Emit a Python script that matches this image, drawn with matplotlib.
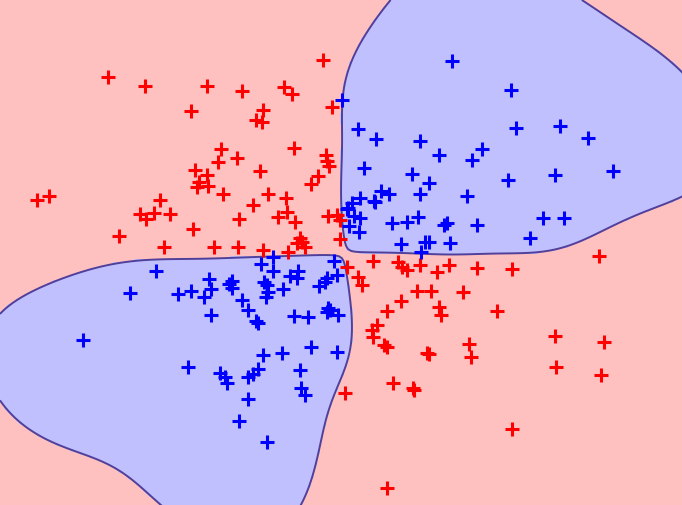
import numpy as np
import matplotlib
matplotlib.use("Agg")
import matplotlib.pyplot as plt
from matplotlib.colors import ListedColormap

# points (x right, y down, picture units)
red_x = [108, 145, 207, 242, 284, 292, 323, 191, 263, 256, 262, 332, 221, 218, 195, 207,
         199, 208, 197, 223, 37, 49, 160, 294, 237, 326, 327, 329, 260, 318, 311, 268,
         286, 253, 140, 146, 154, 170, 119, 193, 164, 214, 239, 287, 278, 295, 328, 337,
         340, 340, 238, 263, 288, 300, 297, 305, 302, 347, 358, 362, 373, 398, 402, 407,
         420, 437, 449, 417, 431, 401, 387, 439, 441, 377, 372, 373, 384, 387, 427, 429,
         599, 477, 512, 463, 497, 555, 604, 469, 471, 345, 393, 413, 414, 387, 512, 556, 601]
red_y = [77, 86, 86, 91, 87, 94, 60, 111, 110, 120, 122, 107, 149, 162, 170, 175,
         182, 186, 187, 194, 200, 196, 200, 148, 158, 155, 161, 166, 171, 176, 184, 194,
         198, 205, 214, 219, 213, 214, 236, 229, 247, 247, 219, 212, 217, 222, 216, 215,
         220, 239, 247, 250, 252, 238, 243, 247, 242, 267, 277, 285, 261, 262, 267, 270,
         265, 272, 265, 291, 291, 301, 311, 307, 315, 325, 330, 337, 345, 347, 353, 354,
         256, 268, 269, 292, 311, 336, 342, 344, 357, 393, 383, 388, 390, 488, 429, 367, 375]

blue_x = [342, 452, 358, 376, 420, 439, 364, 412, 429, 420, 381, 389, 360, 374, 352, 348,
          511, 516, 560, 588, 482, 472, 508, 555, 613, 467, 375, 354, 360, 347, 349, 359,
          392, 407, 418, 444, 447, 401, 425, 429, 421, 450, 477, 543, 564, 530,
          156, 130, 178, 191, 209, 211, 204, 211, 83, 229, 273, 261, 273, 334, 298, 290,
          297, 327, 337, 325, 319, 232, 232, 264, 267, 268, 266, 283, 242, 248, 256, 258,
          328, 330, 327, 338, 294, 308, 311, 282, 263, 337, 188, 220, 225, 227, 248, 253,
          258, 300, 301, 305, 248, 239, 267]
blue_y = [100, 61, 129, 139, 141, 155, 168, 174, 183, 194, 191, 194, 198, 201, 203, 208,
          90, 128, 126, 138, 149, 160, 180, 175, 171, 196, 202, 216, 218, 209, 226, 232,
          223, 222, 217, 225, 223, 244, 242, 242, 252, 243, 225, 218, 218, 238,
          271, 293, 294, 291, 279, 289, 297, 315, 340, 284, 257, 264, 271, 261, 271, 276,
          278, 278, 275, 282, 286, 281, 288, 282, 285, 292, 297, 289, 300, 310, 321, 323,
          308, 310, 312, 315, 316, 317, 347, 353, 355, 352, 367, 373, 377, 383, 377, 374,
          369, 370, 388, 395, 399, 421, 442]

W, H = 682, 505
width = 61.0   # rbf kernel width
lam = 0.3      # ridge term

# least squares kernel classifier fitted on the points
P = np.column_stack([red_x + blue_x, red_y + blue_y]).astype(float)
t = np.r_[-np.ones(len(red_x)), np.ones(len(blue_x))]
n = len(t)
K = np.exp(-((P[:, None, :] - P[None, :, :]) ** 2).sum(-1) / (2 * width ** 2))
A = np.zeros((n + 1, n + 1))
A[:n, :n] = K + lam * np.eye(n)
A[:n, n] = 1
A[n, :n] = 1
sol = np.linalg.solve(A, np.r_[t, 0])
alpha, b = sol[:n], sol[n]

gx, gy = np.meshgrid(np.arange(0, W + 3, 3.0), np.arange(0, H + 3, 3.0))
score = np.full(gx.shape, b)
for (px, py), a in zip(P, alpha):
    score += a * np.exp(-((gx - px) ** 2 + (gy - py) ** 2) / (2 * width ** 2))

fig = plt.figure(figsize=(6.82, 5.05), dpi=100)
ax = fig.add_axes([0, 0, 1, 1])
ax.contourf(gx, gy, (score > 0).astype(float), levels=[-0.5, 0.5, 1.5],
            cmap=ListedColormap(["#ffc0c0", "#c0c0ff"]))
ax.contour(gx, gy, score, levels=[0], colors="#50409a", linewidths=1.4)
ax.plot(red_x, red_y, "+", color="#ff0000", markersize=10, markeredgewidth=2.2)
ax.plot(blue_x, blue_y, "+", color="#0000ff", markersize=10, markeredgewidth=2.2)
ax.set_xlim(0, W)
ax.set_ylim(H, 0)
ax.axis("off")
fig.savefig("out.png", dpi=100)
